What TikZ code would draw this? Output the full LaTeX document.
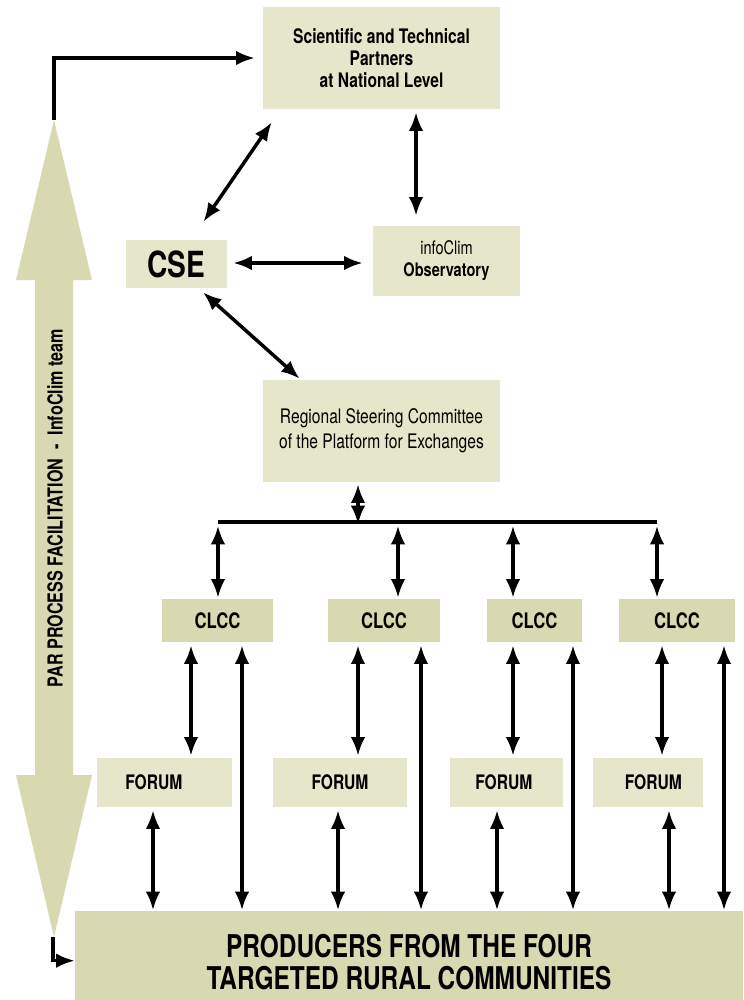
\documentclass[tikz,border=0pt]{standalone}
\usepackage{fontspec}
\setmainfont{TeX Gyre Heros}[FakeStretch=0.78]
\usetikzlibrary{arrows.meta, calc, positioning}
\definecolor{boxlight}{RGB}{230,230,203}
\definecolor{boxdark}{RGB}{216,217,176}
\newcommand{\pxu}{0.75pt} % one pixel of the layout
\tikzset{
>={Latex[length=14pt,width=11pt]}, % filled arrow heads
link/.style={<->, line width=2.6pt}, % two-way connectors
oneway/.style={->, line width=2.6pt}, % one-way connectors
box/.style={fill=boxlight, inner sep=0pt, align=center}, % light boxes
darkbox/.style={box, fill=boxdark}, % darker boxes
}

\begin{document}
\begin{tikzpicture}[x=\pxu, y=-\pxu]
    \useasboundingbox (0,0) rectangle (743,1000);

    % big two-way arrow on the left
    \fill[boxdark] (54,120) -- (92,280) -- (73,280) -- (73,775) -- (92,775)
        -- (54,937) -- (16,775) -- (35,775) -- (35,280) -- (16,280) -- cycle;
    \coordinate (partop) at (54,120);
    \coordinate (parbot) at (53,937);
    \node[rotate=90, font=\bfseries\fontsize{15.5}{17}\selectfont] (par) at (55,508)
        {PAR PROCESS FACILITATION\ \ -\ \ InfoClim team};

    \node[box, minimum width=237*\pxu, minimum height=102*\pxu,
        font=\bfseries\fontsize{15}{16.5}\selectfont] (partners) at (381.5,58)
        {Scientific and Technical\\Partners\\at National Level};
    \node[box, minimum width=101*\pxu, minimum height=48*\pxu,
        font=\bfseries\fontsize{27}{30}\selectfont] (cse) at (176.5,264) {CSE};
    \node[box, minimum width=147*\pxu, minimum height=70*\pxu,
        font=\fontsize{14}{16.5}\selectfont] (infoclim) at (446.5,261)
        {infoClim\\\bfseries Observatory};
    \node[box, minimum width=237*\pxu, minimum height=102*\pxu,
        font=\fontsize{15}{19}\selectfont] (rsc) at (381.5,431)
        {Regional Steering Committee\\of the Platform for Exchanges};

    \node[darkbox, minimum width=111*\pxu, minimum height=43*\pxu,
        font=\bfseries\fontsize{16}{17}\selectfont] (clcc1) at (217.5,620.5) {CLCC};
    \node[darkbox, minimum width=112*\pxu, minimum height=43*\pxu,
        font=\bfseries\fontsize{16}{17}\selectfont] (clcc2) at (384,620.5) {CLCC};
    \node[darkbox, minimum width=95*\pxu, minimum height=43*\pxu,
        font=\bfseries\fontsize{16}{17}\selectfont] (clcc3) at (534.5,620.5) {CLCC};
    \node[darkbox, minimum width=116*\pxu, minimum height=43*\pxu,
        font=\bfseries\fontsize{16}{17}\selectfont] (clcc4) at (677,620.5) {CLCC};

    \node[box, minimum width=135*\pxu, minimum height=49*\pxu,
        font=\bfseries\fontsize{15}{16}\selectfont] (forum1) at (164.5,782.5) {FORUM\hspace{16pt}};
    \node[box, minimum width=134*\pxu, minimum height=49*\pxu,
        font=\bfseries\fontsize{15}{16}\selectfont] (forum2) at (340,782.5) {FORUM};
    \node[box, minimum width=113*\pxu, minimum height=49*\pxu,
        font=\bfseries\fontsize{15}{16}\selectfont] (forum3) at (506.5,782.5) {FORUM\hspace{4pt}};
    \node[box, minimum width=110*\pxu, minimum height=49*\pxu,
        font=\bfseries\fontsize{15}{16}\selectfont] (forum4) at (648,782.5) {\hspace{8pt}FORUM};

    % runs past the bottom edge of the page
    \node[darkbox, minimum width=668*\pxu, minimum height=102*\pxu,
        font=\bfseries\fontsize{23.5}{23.5}\selectfont] (producers) at (409,962)
        {PRODUCERS FROM THE FOUR\\TARGETED RURAL COMMUNITIES};

    % facilitation loops
    \draw[oneway] (partop) |- ([xshift=-6pt]partners.west);
    \draw[oneway] (parbot) |- ([yshift=1pt]producers.west);

    % upper part
    \draw[link] ($(partners.south west)+(9,13)$) -- ($(cse.north)+(27,-18)$);
    \draw[link] ($(partners.south)+(34.5,3)$) -- ($(infoclim.north)+(-30.5,-10)$);
    \draw[link] ($(cse.east)+(6,-1)$) -- ($(infoclim.west)+(-10,2)$);
    \draw[link] ($(cse.south)+(26.5,4)$) -- ($(rsc.north west)+(37,-1)$);

    % bus to the CLCCs
    \coordinate (busw) at (218,522);
    \coordinate (buse) at (657,522);
    \draw[line width=2.6pt] (busw) -- (buse);
    \draw[link] ($(rsc.south)+(-23.5,2)$) -- ++(0,40);
    \draw[link] ($(clcc1.north)+(0.5,-73)$) -- ($(clcc1.north)+(0.5,-1)$);
    \draw[link] ($(clcc2.north)+(14,-73)$) -- ($(clcc2.north)+(14,-1)$);
    \draw[link] ($(clcc3.north)+(-21.5,-73)$) -- ($(clcc3.north)+(-21.5,-1)$);
    \draw[link] ($(clcc4.north)+(-20,-73)$) -- ($(clcc4.north)+(-20,-1)$);

    % CLCC to FORUM
    \draw[link] ($(clcc1.south)+(-26.5,3)$) -- ($(forum1.north)+(26.5,-2)$);
    \draw[link] ($(clcc2.south)+(-26,3)$) -- ($(forum2.north)+(18,-2)$);
    \draw[link] ($(clcc3.south)+(-21.5,3)$) -- ($(forum3.north)+(6.5,-2)$);
    \draw[link] ($(clcc4.south)+(-15,3)$) -- ($(forum4.north)+(14,-2)$);

    % CLCC to producers
    \draw[link] ($(clcc1.south)+(24.5,3)$) -- ++(0,265);
    \draw[link] ($(clcc2.south)+(37,3)$) -- ++(0,265);
    \draw[link] ($(clcc3.south)+(38.5,3)$) -- ++(0,265);
    \draw[link] ($(clcc4.south)+(47,3)$) -- ++(0,265);

    % FORUM to producers
    \draw[link] ($(forum1.south)+(-11.5,3)$) -- ++(0,100);
    \draw[link] ($(forum2.south)+(-2,3)$) -- ++(0,100);
    \draw[link] ($(forum3.south)+(-9.5,3)$) -- ++(0,100);
    \draw[link] ($(forum4.south)+(21,3)$) -- ++(0,100);
\end{tikzpicture}
\end{document}
